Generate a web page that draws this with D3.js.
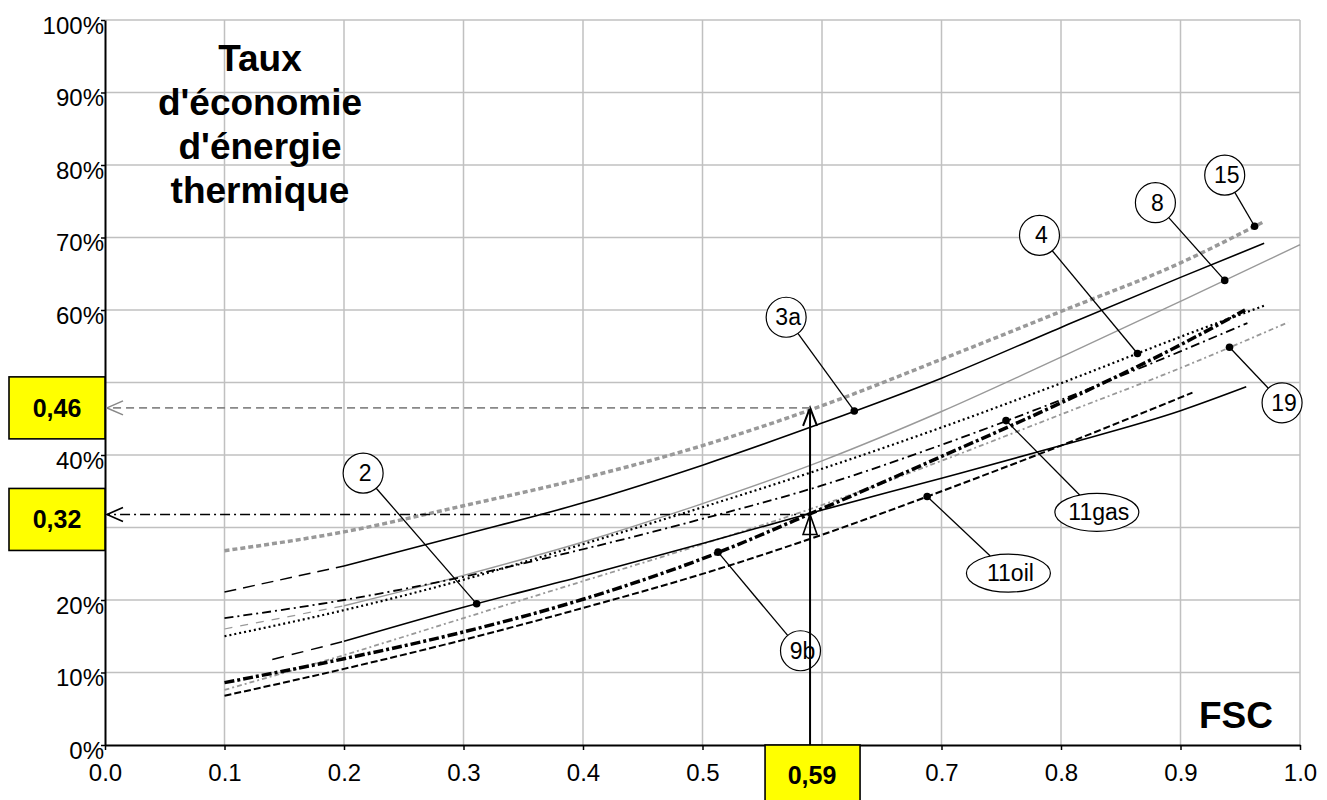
<!DOCTYPE html>
<html>
<head>
<meta charset="utf-8">
<script src="https://cdn.jsdelivr.net/npm/d3@7"></script>
<style>
  body { margin: 0; background: #fff; }
  text { font-family: Arial, "Liberation Sans", sans-serif; }
</style>
</head>
<body>
<svg id="chart" width="1327" height="800"></svg>
<script>
// tick values
const xTicks = [0, 0.1, 0.2, 0.3, 0.4, 0.5, 0.6, 0.7, 0.8, 0.9, 1.0];
const yTicks = [0, 0.1, 0.2, 0.3, 0.4, 0.5, 0.6, 0.7, 0.8, 0.9, 1.0];

// series, [FSC, taux]
const s15 = [[0.1,.268],[0.2,.294],[0.3,.330],[0.4,.368],[0.5,.413],[0.6,.468],[0.7,.532],[0.8,.598],[0.9,.665],[0.97,.722]];
const s3a = [[0.1,.211],[0.2,.247],[0.3,.290],[0.4,.334],[0.5,.386],[0.6,.444],[0.7,.506],[0.8,.576],[0.9,.645],[0.97,.692]];
const s8 = [[0.1,.160],[0.2,.192],[0.3,.234],[0.4,.280],[0.5,.333],[0.6,.392],[0.7,.460],[0.8,.535],[0.9,.612],[1.0,.690]];
const s4 = [[0.1,.150],[0.2,.186],[0.3,.228],[0.4,.277],[0.5,.328],[0.6,.381],[0.7,.438],[0.8,.499],[0.9,.563],[0.97,.606]];
const s11gas = [[0.1,.175],[0.2,.200],[0.3,.232],[0.4,.270],[0.5,.312],[0.6,.358],[0.7,.414],[0.8,.476],[0.9,.543],[0.956,.582]];
const s19 = [[0.1,.076],[0.2,.124],[0.3,.175],[0.4,.226],[0.5,.277],[0.6,.331],[0.7,.392],[0.8,.456],[0.9,.520],[0.99,.583]];
const s9b = [[0.1,.086],[0.2,.119],[0.3,.156],[0.4,.201],[0.5,.257],[0.6,.326],[0.7,.398],[0.8,.472],[0.9,.552],[0.954,.600]];
const s2 = [[0.14,.118],[0.2,.143],[0.3,.190],[0.4,.233],[0.5,.278],[0.6,.324],[0.7,.368],[0.8,.413],[0.9,.461],[0.955,.494]];
const s11oil = [[0.1,.068],[0.2,.105],[0.3,.145],[0.4,.189],[0.5,.236],[0.6,.290],[0.7,.350],[0.8,.413],[0.91,.486]];

const seriesNames = ["15", "3a", "8", "4", "11gas", "19", "9b", "2", "11oil"];
const seriesValues = [s15, s3a, s8, s4, s11gas, s19, s9b, s2, s11oil];

// reading on the chart
const readX = 0.59;
const readY = [0.465, 0.318];
const readLabels = ["0,46", "0,32"];
const readXLabel = "0,59";

// callouts: which series, where the dot sits (FSC) and where the bubble goes
const calloutSeries = ["15", "8", "4", "3a", "2", "11gas", "11oil", "9b", "19"];
const calloutAt = [0.962, 0.937, 0.864, 0.627, 0.311, 0.754, 0.688, 0.513, 0.941];
const calloutPos = [[0.937,.786],[0.879,.748],[0.782,.703],[0.570,.590],[0.216,.375],[0.830,.321],[0.756,.237],[0.582,.130],[0.985,.472]];

const titleLines = ["Taux", "d'économie", "d'énergie", "thermique"];

// styles
const styles = {
  "15":    {stroke: "#999", width: 3.5, dash: "5,3"},
  "3a":    {stroke: "#000", width: 1.6, dash: null, ext: "12,7"},
  "8":     {stroke: "#999", width: 1.4, dash: null, ext: "8,8"},
  "4":     {stroke: "#000", width: 2.2, dash: "2,3"},
  "11gas": {stroke: "#000", width: 1.8, dash: "9,4,2,4"},
  "19":    {stroke: "#999", width: 1.8, dash: "5,3,2,3"},
  "9b":    {stroke: "#000", width: 3.5, dash: "10,3,3,3"},
  "2":     {stroke: "#000", width: 1.6, dash: null, ext: "12,8"},
  "11oil": {stroke: "#000", width: 2, dash: "7,3"}
};

const svg = d3.select("#chart");

const x = d3.scaleLinear().domain([0, 1]).range([105, 1300]);
const y = d3.scaleLinear().domain([0, 1]).range([745, 20]);

// grid
svg.append("g")
  .selectAll("line")
  .data(xTicks.filter(d => d > 0))
  .join("line")
  .attr("x1", d => x(d)).attr("x2", d => x(d))
  .attr("y1", y(0)).attr("y2", y(1))
  .attr("stroke", "#c0c0c0").attr("stroke-width", 1.5);

svg.append("g")
  .selectAll("line")
  .data(yTicks.filter(d => d > 0))
  .join("line")
  .attr("x1", x(0)).attr("x2", x(1))
  .attr("y1", d => y(d)).attr("y2", d => y(d))
  .attr("stroke", "#c0c0c0").attr("stroke-width", 1.5);

// series
const line = d3.line().x(d => x(d[0])).y(d => y(d[1])).curve(d3.curveMonotoneX);

let gSeries = svg.append("g").attr("fill", "none");
seriesNames.forEach((name, i) => {
  let data = seriesValues[i];
  let st = styles[name];
  if (st.ext) {
    gSeries.append("path")
      .attr("d", line(data.slice(0, 2)))
      .attr("stroke", st.stroke)
      .attr("stroke-width", st.width * 0.9)
      .attr("stroke-dasharray", st.ext);
    data = data.slice(1);
  }
  gSeries.append("path")
    .attr("d", line(data))
    .attr("stroke", st.stroke)
    .attr("stroke-width", st.width)
    .attr("stroke-dasharray", st.dash);
});

// axes
let yAxis = svg.append("g")
  .attr("transform", `translate(${x(0)},0)`)
  .call(d3.axisLeft(y).tickValues(yTicks).tickFormat(d3.format(".0%")).tickSize(4).tickSizeOuter(0).tickPadding(-3));
yAxis.selectAll("text").attr("font-size", 24).attr("dy", "0.55em").attr("fill", "#000")
  .style("font-family", "Arial, 'Liberation Sans', sans-serif");

let xAxis = svg.append("g")
  .attr("transform", `translate(0,${y(0)})`)
  .call(d3.axisBottom(x).tickValues(xTicks).tickFormat(d3.format(".1f")).tickSize(5).tickSizeOuter(0).tickPadding(14));
xAxis.selectAll("text").attr("font-size", 24).attr("fill", "#000")
  .style("font-family", "Arial, 'Liberation Sans', sans-serif");

svg.selectAll(".domain").attr("stroke", "#000").attr("stroke-width", 2);
svg.selectAll(".tick line").attr("stroke", "#000").attr("stroke-width", 1.5);

// reading lines
let gRead = svg.append("g").attr("fill", "none");
gRead.append("line")
  .attr("x1", x(readX)).attr("x2", x(readX))
  .attr("y1", y(0)).attr("y2", y(readY[0]))
  .attr("stroke", "#000").attr("stroke-width", 2);
gRead.append("path")
  .attr("d", `M${x(readX) - 7},${y(readY[0]) + 18}L${x(readX)},${y(readY[0])}L${x(readX) + 7},${y(readY[0]) + 18}`)
  .attr("stroke", "#000").attr("stroke-width", 2);
gRead.append("path")
  .attr("d", `M${x(readX) - 7},${y(readY[1]) + 20}L${x(readX)},${y(readY[1])}L${x(readX) + 7},${y(readY[1]) + 20}Z`)
  .attr("stroke", "#000").attr("stroke-width", 1.6);

const readStroke = ["#888", "#000"];
const readDash = ["8,5", "10,4,2,4"];
readY.forEach((v, i) => {
  gRead.append("line")
    .attr("x1", x(readX)).attr("x2", x(0) + 2)
    .attr("y1", y(v)).attr("y2", y(v))
    .attr("stroke", readStroke[i]).attr("stroke-width", 1.6)
    .attr("stroke-dasharray", readDash[i]);
  gRead.append("path")
    .attr("d", `M${x(0) + 18},${y(v) - 7}L${x(0) + 2},${y(v)}L${x(0) + 18},${y(v) + 7}`)
    .attr("stroke", readStroke[i]).attr("stroke-width", 1.6);
});

// callouts
function valueAt(data, fx) {
  for (let k = 1; k < data.length; k++) {
    if (fx <= data[k][0]) {
      let a = data[k - 1], b = data[k];
      return a[1] + (b[1] - a[1]) * (fx - a[0]) / (b[0] - a[0]);
    }
  }
  return data[data.length - 1][1];
}

let gCall = svg.append("g");
calloutSeries.forEach((name, i) => {
  let data = seriesValues[seriesNames.indexOf(name)];
  let dx = x(calloutAt[i]), dy = y(valueAt(data, calloutAt[i]));
  let cx = x(calloutPos[i][0]), cy = y(calloutPos[i][1]);
  let rx = name.length > 3 ? 42 : 20, ry = name.length > 3 ? 19 : 20;
  let ang = Math.atan2(dy - cy, dx - cx);
  // point on the ellipse edge
  let t = 1 / Math.sqrt(Math.pow(Math.cos(ang) / rx, 2) + Math.pow(Math.sin(ang) / ry, 2));
  gCall.append("line")
    .attr("x1", cx + t * Math.cos(ang)).attr("y1", cy + t * Math.sin(ang))
    .attr("x2", dx).attr("y2", dy)
    .attr("stroke", "#000").attr("stroke-width", 1.3);
  gCall.append("circle").attr("cx", dx).attr("cy", dy).attr("r", 3.8).attr("fill", "#000");
  gCall.append("ellipse")
    .attr("cx", cx).attr("cy", cy).attr("rx", rx).attr("ry", ry)
    .attr("fill", name === "9b" ? "none" : "#fff").attr("stroke", "#000").attr("stroke-width", 1.2);
  gCall.append("text")
    .attr("x", cx + 2).attr("y", cy + 8)
    .attr("text-anchor", "middle")
    .attr("font-size", 23)
    .text(name);
});

// value boxes
let gBox = svg.append("g");
readY.forEach((v, i) => {
  gBox.append("rect")
    .attr("x", 9).attr("y", y(v) - 31 + i * 5)
    .attr("width", x(0) - 9).attr("height", 62)
    .attr("fill", "#ffff00").attr("stroke", "#000").attr("stroke-width", 1.6);
  gBox.append("text")
    .attr("x", (9 + x(0)) / 2).attr("y", y(v) + 9 + i * 5)
    .attr("text-anchor", "middle")
    .attr("font-size", 25).attr("font-weight", "bold")
    .text(readLabels[i]);
});
gBox.append("rect")
  .attr("x", x(readX) - 45).attr("y", y(0))
  .attr("width", 95).attr("height", 70)
  .attr("fill", "#ffff00").attr("stroke", "#000").attr("stroke-width", 1.6);
gBox.append("text")
  .attr("x", x(readX) + 2).attr("y", y(0) + 39)
  .attr("text-anchor", "middle")
  .attr("font-size", 25).attr("font-weight", "bold")
  .text(readXLabel);

// title and axis name
svg.append("g")
  .selectAll("text")
  .data(titleLines)
  .join("text")
  .attr("x", 260)
  .attr("y", (d, i) => 71 + i * 44)
  .attr("text-anchor", "middle")
  .attr("font-size", 37).attr("font-weight", "bold")
  .text(d => d);

svg.append("text")
  .attr("x", 1273).attr("y", 728)
  .attr("text-anchor", "end")
  .attr("font-size", 37).attr("font-weight", "bold")
  .text("FSC");
</script>
</body>
</html>
